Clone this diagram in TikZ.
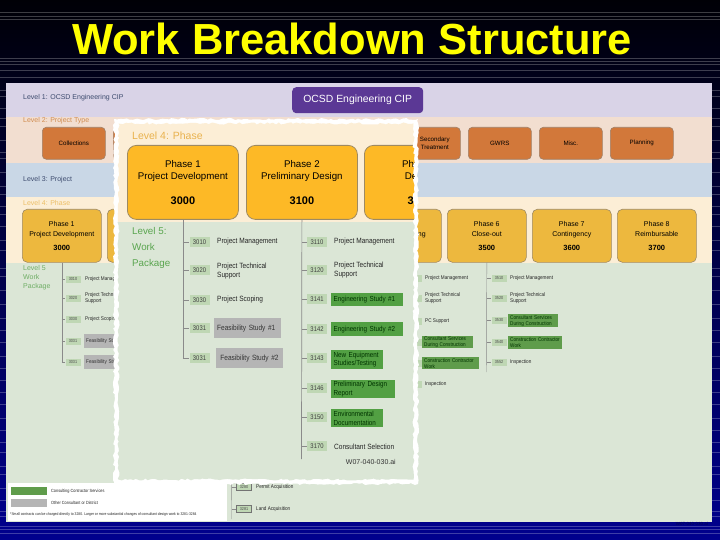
\documentclass[tikz,border=0pt]{standalone}
\usepackage{fontspec}
\setmainfont{Liberation Sans}
\newfontfamily\narrowfont[FakeStretch=0.86]{Liberation Sans}
\usetikzlibrary{decorations.pathmorphing}

\definecolor{bandLav}{HTML}{D9D3E7}
\definecolor{bandPeach}{HTML}{F2DED0}
\definecolor{bandBlue}{HTML}{C9D7E6}
\definecolor{bandCream}{HTML}{FCEED6}
\definecolor{bandGreen}{HTML}{DBE6D6}
\definecolor{cipPurple}{HTML}{5B3895}
\definecolor{typeOrange}{HTML}{D2783A}
\definecolor{typeEdge}{HTML}{A08068}
\definecolor{phaseGold}{HTML}{EDB83E}
\definecolor{phaseBright}{HTML}{FDB926}
\definecolor{phaseEdge}{HTML}{9E8A62}
\definecolor{codeGreen}{HTML}{BFD7B4}
\definecolor{workGreen}{HTML}{52A043}
\definecolor{workGreenBg}{HTML}{5F9C4B}
\definecolor{otherGray}{HTML}{B5B5B5}
\definecolor{lvlBlue}{HTML}{3D4B6E}
\definecolor{lvlOrange}{HTML}{D08C50}
\definecolor{lvlGold}{HTML}{EBBE66}
\definecolor{lvlGreen}{HTML}{6FAE65}
\definecolor{insetGold}{HTML}{E9B24E}
\definecolor{insetGreen}{HTML}{5AA54F}
\definecolor{trunkGray}{HTML}{8A8A8A}
\definecolor{titleYellow}{HTML}{FFFF00}
\definecolor{slideTop}{HTML}{000006}
\definecolor{slideBottom}{HTML}{00008E}

\begin{document}
\begin{tikzpicture}[x=1pt,y=-1pt,
  every node/.style={execute at begin node={\hyphenpenalty=10000\relax}},
  lvl/.style={anchor=west, inner sep=0pt, font=\fontsize{7}{8}\selectfont},
  ptype/.style={draw=typeEdge, line width=0.6pt, fill=typeOrange, rounded corners=4pt,
    minimum width=63pt, minimum height=32pt, inner sep=1pt, align=center,
    font=\fontsize{6.2}{7.4}\selectfont, anchor=north west},
  bphase/.style={draw=phaseEdge, line width=0.6pt, fill=phaseGold, rounded corners=5pt,
    minimum width=79pt, minimum height=53pt, inner sep=0pt, align=center,
    font=\fontsize{7}{10.5}\selectfont, anchor=north west},
  iphase/.style={draw=phaseEdge, line width=0.8pt, fill=phaseBright, rounded corners=9pt,
    minimum width=111pt, minimum height=74pt, inner sep=0pt, align=center,
    font=\fontsize{9.7}{12}\selectfont, anchor=north west},
  conn/.style={draw=trunkGray, line width=0.7pt},
  bconn/.style={draw=trunkGray, line width=0.45pt},
  code/.style={fill=codeGreen, minimum width=20pt, minimum height=10pt, inner sep=0pt,
    text=black!75, font=\narrowfont\fontsize{6.8}{7}\selectfont},
  bcode/.style={fill=codeGreen, minimum width=15pt, minimum height=7pt, inner sep=0pt,
    text=black!70, font=\narrowfont\fontsize{4.4}{5}\selectfont},
  item/.style={anchor=west, inner sep=0pt, align=left, text=black!85,
    font=\narrowfont\fontsize{7.6}{9}\selectfont},
  bitem/.style={anchor=west, inner sep=0pt, align=left, text=black!85,
    font=\narrowfont\fontsize{5.4}{6}\selectfont},
  wbox/.style 2 args={fill=workGreen, anchor=north west, text width=#1, minimum height=#2,
    inner xsep=2.5pt, inner ysep=0pt, align=left, text=black!80!green,
    font=\narrowfont\fontsize{7.3}{8.8}\selectfont},
  obox/.style 2 args={fill=otherGray, anchor=north west, text width=#1, minimum height=#2,
    inner xsep=3pt, inner ysep=0pt, align=left, text=black!80,
    font=\narrowfont\fontsize{7.6}{9}\selectfont},
  bwbox/.style 2 args={fill=workGreenBg, anchor=north west, text width=#1, minimum height=#2,
    inner xsep=2pt, inner ysep=0pt, align=left, text=black!80!green,
    font=\narrowfont\fontsize{5.4}{6}\selectfont},
  bobox/.style 2 args={fill=otherGray, anchor=north west, text width=#1, minimum height=#2,
    inner xsep=2pt, inner ysep=0pt, align=left, text=black!80,
    font=\narrowfont\fontsize{5.4}{6}\selectfont},
  torn/.style={decorate, decoration={random steps, segment length=3pt, amplitude=1.1pt}}
]
\pgfmathsetseed{4217}
\useasboundingbox (0,0) rectangle (720,540);

% slide backdrop with thin rules
\shade[top color=slideTop, bottom color=slideBottom] (0,0) rectangle (720,540);
\foreach \yy in {12,16,19,58,61,64,70,77,90,96,108,118,126,140,152,158,172,186,194,206,
  214,226,240,250,268,276,290,304,318,330,342,356,368,380,392,404,418,430,442,452,466,474,
  488,500,511,516,526,529,533}
  \draw[white, opacity=0.24, line width=0.5pt] (0,\yy) -- (720,\yy);

% title
\node[anchor=base, inner sep=0pt, text=titleYellow, font=\bfseries\fontsize{43.5}{48}\selectfont]
  (title) at (352,55) {Work Breakdown Structure};

% level bands of the full chart
\fill[bandLav]   (6,83)  rectangle (712,117);
\fill[bandPeach] (6,117) rectangle (712,163);
\fill[bandBlue]  (6,163) rectangle (712,197);
\fill[bandCream] (6,197) rectangle (712,263);
\fill[bandGreen] (6,263) rectangle (712,522);

\node[lvl, text=lvlBlue]   (l1) at (23,98)  {Level 1: OCSD Engineering CIP};
\node[lvl, text=lvlOrange] (l2) at (23,121) {Level 2: Project Type};
\node[lvl, text=lvlBlue]   (l3) at (23,180) {Level 3: Project};
\node[lvl, text=lvlGold]   (l4) at (23,203) {Level 4: Phase};
\node[lvl, text=lvlGreen, anchor=north west, align=left, font=\fontsize{7}{9.3}\selectfont]
  (l5) at (23,265) {Level 5\\Work\\Package};

% level 1
\node[fill=cipPurple, rounded corners=4pt, minimum width=131pt, minimum height=26pt,
  inner sep=0pt, text=white, font=\fontsize{10.4}{12}\selectfont, anchor=north west]
  (cip) at (292,87) {OCSD Engineering CIP};

% level 2: project types
\node[ptype] (tCol)  at (42,127)  {Collections};
\node[ptype] (tB)    at (113,127) {};
\node[ptype] (tSec)  at (397,127) {\hspace*{12pt}Secondary\\\hspace*{12pt}Treatment};
\node[ptype] (tGW)   at (468,127) {GWRS};
\node[ptype] (tMisc) at (539,127) {Misc.};
\node[ptype] (tPlan) at (610,127) {Planning};

% level 4: phases
\node[bphase] (bph1) at (22,209)  {Phase 1\\Project Development\\[3pt]{\bfseries\fontsize{7.5}{8}\selectfont 3000}};
\node[bphase] (bph2) at (107,209) {};
\node[bphase] (bph3) at (192,209) {};
\node[bphase] (bph5) at (362,209) {Phase 5\\Commissioning\\[3pt]{\bfseries\fontsize{7.5}{8}\selectfont 3400}};
\node[bphase] (bph6) at (447,209) {Phase 6\\Close-out\\[3pt]{\bfseries\fontsize{7.5}{8}\selectfont 3500}};
\node[bphase] (bph7) at (532,209) {Phase 7\\Contingency\\[3pt]{\bfseries\fontsize{7.5}{8}\selectfont 3600}};
\node[bphase] (bph8) at (617,209) {Phase 8\\Reimbursable\\[3pt]{\bfseries\fontsize{7.5}{8}\selectfont 3700}};

% level 5: phase 1 work packages
\node[bcode] (a3010)  at (73,279) {3010};
\node[bitem] (a3010t) at (85,279) {Project Management};
\node[bcode] (a3020)  at (73,298) {3020};
\node[bitem] (a3020t) at (85,298) {Project Technical\\Support};
\node[bcode] (a3030)  at (73,319) {3030};
\node[bitem] (a3030t) at (85,319) {Project Scoping};
\node[bcode] (a3031a) at (73,341) {3031};
\node[bobox={52pt}{14pt}] (a3031at) at (84,334) {Feasibility Study \#1};
\node[bcode] (a3031b) at (73,362) {3031};
\node[bobox={52pt}{14pt}] (a3031bt) at (84,355) {Feasibility Study \#2};
\draw[bconn] (bph1.south) -- (bph1.south |- a3031b.west);
\foreach \n in {a3010,a3020,a3030,a3031a,a3031b}
  \draw[bconn] (bph1.south |- \n.west) -- (\n.west);

% level 5: phase 5 work packages
\node[bcode] (c3410) at (414,278) {3410};
\node[bitem] (c3410t) at (425,278) {Project Management};
\node[bcode] (c3420) at (414,298) {3420};
\node[bitem] (c3420t) at (425,298) {Project Technical\\Support};
\node[bcode] (c3431) at (414,321) {3431};
\node[bitem] (c3431t) at (425,321) {PC Support};
\node[bcode] (c3440) at (414,342) {3440};
\node[bwbox={47pt}{12pt}] (c3440t) at (422,336) {Consultant Services\\During Construction};
\node[bcode] (c3450) at (414,363) {3450};
\node[bwbox={53pt}{12pt}] (c3450t) at (422,357) {Construction Contractor\\Work};
\node[bcode] (c3452) at (414,384) {3452};
\node[bitem] (c3452t) at (425,384) {Inspection};
\draw[bconn] (bph5.south) -- (bph5.south |- c3452.west);
\foreach \n in {c3410,c3420,c3431,c3440,c3450,c3452}
  \draw[bconn] (bph5.south |- \n.west) -- (\n.west);

% level 5: phase 6 work packages
\coordinate (bph6end) at (486.5,372);
\node[bcode] (d3510) at (499,278) {3510};
\node[bitem] (d3510t) at (510,278) {Project Management};
\node[bcode] (d3520) at (499,298) {3520};
\node[bitem] (d3520t) at (510,298) {Project Technical\\Support};
\node[bcode] (d3530) at (499,320) {3530};
\node[bwbox={46pt}{13pt}] (d3530t) at (508,314) {Consultant Services\\During Construction};
\node[bcode] (d3540) at (499,342) {3540};
\node[bwbox={50pt}{13pt}] (d3540t) at (508,336) {Construction Contractor\\Work};
\node[bcode] (d3552) at (499,362) {3552};
\node[bitem] (d3552t) at (510,362) {Inspection};
\draw[bconn] (bph6.south) -- (bph6end);
\foreach \n in {d3510,d3520,d3530,d3540,d3552}
  \draw[bconn] (bph6.south |- \n.west) -- (\n.west);

% level 5: phase 3 right-of-way packages
\coordinate (bph3end) at (231.5,519);
\node[bcode, draw=black!55, line width=0.4pt] (e3280) at (244,487) {3280};
\node[bitem] (e3280t) at (256,487) {Permit Acquisition};
\node[bcode, draw=black!55, line width=0.4pt] (e3281) at (244,509) {3281};
\node[bitem] (e3281t) at (256,509) {Land Acquisition};
\draw[bconn] (bph3.south) -- (bph3end);
\foreach \n in {e3280,e3281}
  \draw[bconn] (bph3.south |- \n.west) -- (\n.west);

% legend
\fill[white] (8,483) rectangle (227,521);
\fill[workGreenBg] (11,487) rectangle (47,495);
\node[bitem, font=\narrowfont\fontsize{4.5}{5}\selectfont] (legW) at (51,491) {Consulting Contractor Services};
\fill[otherGray] (11,499) rectangle (47,507);
\node[bitem, font=\narrowfont\fontsize{4.5}{5}\selectfont] (legO) at (51,503) {Other Consultant or District};
\node[bitem, font=\narrowfont\fontsize{3.9}{4.5}\selectfont] (legNote) at (10,514)
  {*Small contracts can be charged directly to 3280. Larger or more substantial changes of consultant design work to 3281-3284};

% magnified detail of phases 1 and 2, on torn paper
\path[fill=white, torn] (114,119) rectangle (418,484);
\begin{scope}
\clip[torn] (118.5,123.5) rectangle (413.5,479.5);
\fill[bandCream] (110,110) rectangle (420,222);
\fill[bandGreen] (110,222) rectangle (420,490);

\node[lvl, text=insetGold, font=\fontsize{10.5}{12}\selectfont] (il4) at (132,136) {Level 4: Phase};
\node[iphase] (ip1) at (127,145) {Phase 1\\Project Development\\[12.5pt]{\bfseries\fontsize{11}{12}\selectfont 3000}};
\node[iphase] (ip2) at (246,145) {Phase 2\\Preliminary Design\\[12.5pt]{\bfseries\fontsize{11}{12}\selectfont 3100}};
\node[iphase] (ip3) at (364,145) {Phase 3\\Design\\[12.5pt]{\bfseries\fontsize{11}{12}\selectfont 3200}};

\node[anchor=north west, inner sep=0pt, align=left, text=insetGreen, font=\fontsize{9.8}{16}\selectfont]
  (il5) at (132,227.5) {Level 5:\\Work\\Package};

% phase 1 work packages
\node[code] (i3010) at (199.5,242) {3010};
\node[item] (i3010t) at (217,242) {Project Management};
\node[code] (i3020) at (199.5,270) {3020};
\node[item] (i3020t) at (217,271) {Project Technical\\Support};
\node[code] (i3030) at (199.5,300) {3030};
\node[item] (i3030t) at (217,300) {Project Scoping};
\node[code] (i3031a) at (199.5,328) {3031};
\node[obox={61pt}{20pt}] (i3031at) at (214,318) {Feasibility Study \#1};
\node[code] (i3031b) at (199.5,358) {3031};
\node[obox={61pt}{20pt}] (i3031bt) at (216,348) {\,Feasibility Study \#2};
\draw[conn] (ip1.south) -- (ip1.south |- i3031b.west);
\foreach \n in {i3010,i3020,i3030,i3031a,i3031b}
  \draw[conn] (ip1.south |- \n.west) -- (\n.west);

% phase 2 work packages
\coordinate (ip2end) at (301.5,459);
\node[code] (j3110) at (317,242) {3110};
\node[item] (j3110t) at (334,242) {Project Management};
\node[code] (j3120) at (317,270) {3120};
\node[item] (j3120t) at (334,270) {Project Technical\\Support};
\node[code] (j3141) at (317,299) {3141};
\node[wbox={67pt}{13pt}] (j3141t) at (331,293) {Engineering Study \#1};
\node[code] (j3142) at (317,329) {3142};
\node[wbox={67pt}{14pt}] (j3142t) at (331,322) {Engineering Study \#2};
\node[code] (j3143) at (317,358) {3143};
\node[wbox={47pt}{19pt}] (j3143t) at (331,350) {New Equipment\\Studies/Testing};
\node[code] (j3146) at (317,388) {3146};
\node[wbox={59pt}{18pt}] (j3146t) at (331,380) {Preliminary Design\\Report};
\node[code] (j3150) at (317,417) {3150};
\node[wbox={47pt}{18pt}] (j3150t) at (331,409) {Environmental\\Documentation};
\node[code] (j3170) at (317,446) {3170};
\node[item] (j3170t) at (334,447) {Consultant Selection};
\draw[conn] (ip2.south) -- (ip2end);
\foreach \n in {j3110,j3120,j3141,j3142,j3143,j3146,j3150,j3170}
  \draw[conn] (ip2.south |- \n.west) -- (\n.west);

\node[anchor=east, inner sep=0pt, text=black!80, font=\fontsize{7}{8}\selectfont]
  (fileref) at (396,462) {W07-040-030.ai};
\end{scope}

% slide corner reference
\node[anchor=east, inner sep=0pt, text=slideBottom!55!black, font=\fontsize{4.5}{5}\selectfont]
  (slideref) at (708,524) {W07-040-030.ai};
\end{tikzpicture}
\end{document}
